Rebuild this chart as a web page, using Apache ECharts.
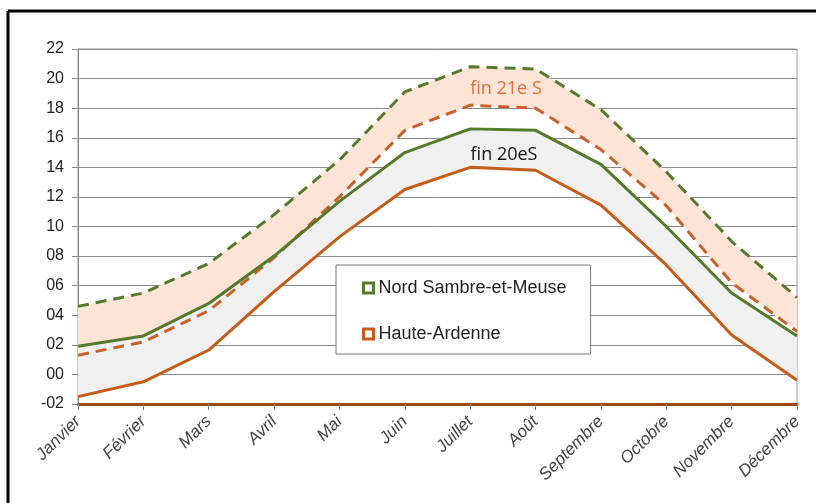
<!DOCTYPE html>
<html>
<head>
<meta charset="utf-8">
<script src="https://cdn.jsdelivr.net/npm/echarts@6/dist/echarts.min.js"></script>
<style>
  html, body { margin: 0; padding: 0; background: #fff; }
  #chart { width: 816px; height: 503px; }
</style>
</head>
<body>
<div id="chart"></div>
<script>
// mois
var months = ['Janvier', 'Février', 'Mars', 'Avril', 'Mai', 'Juin', 'Juillet', 'Août', 'Septembre', 'Octobre', 'Novembre', 'Décembre'];

// fin 20e siecle (traits pleins)
var nord20 = [1.9, 2.6, 4.8, 8.0, 11.7, 15.0, 16.6, 16.5, 14.2, 10.0, 5.5, 2.6];
var haute20 = [-1.5, -0.5, 1.65, 5.6, 9.3, 12.5, 14.0, 13.8, 11.45, 7.4, 2.67, -0.4];

// fin 21e siecle (tirets)
var nord21 = [4.6, 5.5, 7.5, 10.8, 14.5, 19.1, 20.8, 20.65, 17.9, 13.7, 9.0, 5.2];
var haute21 = [1.3, 2.2, 4.3, 7.9, 12.0, 16.5, 18.2, 18.0, 15.2, 11.4, 6.2, 2.9];

var green = '#557a2a', orange = '#c65c1a';

function diff(a, b) {
  return a.map(function (v, i) { return +(v - b[i]).toFixed(2); });
}
function pad(v) {
  var s = String(Math.abs(v));
  if (s.length < 2) s = '0' + s;
  return (v < 0 ? '-' : '') + s;
}

var hidden = { opacity: 0 };
var chart = echarts.init(document.getElementById('chart'));

chart.setOption({
  animation: false,
  backgroundColor: '#fff',
  grid: { left: 78, right: 19, top: 49, bottom: 99, show: true, borderColor: '#9a9a9a', borderWidth: 1 },
  legend: {
    orient: 'vertical',
    left: 336, top: 265,
    padding: [14, 24, 11, 26],
    itemGap: 28,
    itemWidth: 10, itemHeight: 10,
    backgroundColor: '#fff',
    borderColor: '#7a7a7a', borderWidth: 1,
    textStyle: { fontFamily: 'Liberation Sans', fontSize: 18, color: '#222' },
    data: [
      { name: 'Nord Sambre-et-Meuse', icon: 'rect', itemStyle: { color: '#fff', borderColor: green, borderWidth: 3 } },
      { name: 'Haute-Ardenne', icon: 'rect', itemStyle: { color: '#fff', borderColor: orange, borderWidth: 3 } }
    ]
  },
  xAxis: {
    type: 'category',
    data: months,
    boundaryGap: false,
    axisLine: { onZero: false, lineStyle: { color: '#9b4a1a', width: 3 } },
    axisTick: { show: true, length: 6, lineStyle: { color: '#888' } },
    axisLabel: { rotate: 45, margin: 15, fontFamily: 'Liberation Sans', fontStyle: 'italic', fontSize: 17, color: '#444', interval: 0 }
  },
  yAxis: {
    type: 'value',
    min: -2, max: 22, interval: 2,
    axisLine: { show: true, lineStyle: { color: '#888', width: 1 } },
    axisTick: { show: true, length: 6, lineStyle: { color: '#888' } },
    axisLabel: { margin: 14, fontFamily: 'Liberation Sans', fontSize: 16, color: '#222', formatter: pad },
    splitLine: { lineStyle: { color: '#8a8a8a', width: 1 } }
  },
  graphic: [
    { type: 'line', z: 100, shape: { x1: 8, y1: 11, x2: 816, y2: 11 }, style: { stroke: '#000', lineWidth: 3 } },
    { type: 'line', z: 100, shape: { x1: 8, y1: 11, x2: 8, y2: 503 }, style: { stroke: '#000', lineWidth: 3 } },
    { type: 'text', z: 100, x: 506, y: 89, style: { text: 'fin 21e S', fill: '#e0703e', font: '18px "Open Sans"', align: 'center', verticalAlign: 'middle' } },
    { type: 'text', z: 100, x: 504, y: 155, style: { text: 'fin 20eS', fill: '#111', font: '18px "Open Sans"', align: 'center', verticalAlign: 'middle' } }
  ],
  series: [
    { name: 'b21', type: 'line', stack: 'b21', stackStrategy: 'all', data: haute21, symbol: 'none', lineStyle: hidden, silent: true },
    { name: 'band21', type: 'line', stack: 'b21', stackStrategy: 'all', data: diff(nord21, haute21), symbol: 'none', lineStyle: hidden,
      areaStyle: { color: '#fde4d7', opacity: 1 }, silent: true },
    { name: 'b20', type: 'line', stack: 'b20', stackStrategy: 'all', data: haute20, symbol: 'none', lineStyle: hidden, silent: true },
    { name: 'band20', type: 'line', stack: 'b20', stackStrategy: 'all', data: diff(nord20, haute20), symbol: 'none', lineStyle: hidden,
      areaStyle: { color: '#f0f0f0', opacity: 1 }, silent: true },
    { name: 'Nord Sambre-et-Meuse 21e', type: 'line', data: nord21, symbol: 'none',
      lineStyle: { color: green, width: 3, type: [11, 7] } },
    { name: 'Haute-Ardenne 21e', type: 'line', data: haute21, symbol: 'none',
      lineStyle: { color: '#c8622a', width: 3, type: [11, 7] } },
    { name: 'Nord Sambre-et-Meuse', type: 'line', data: nord20, symbol: 'none', color: green,
      lineStyle: { color: green, width: 3 } },
    { name: 'Haute-Ardenne', type: 'line', data: haute20, symbol: 'none', color: orange,
      lineStyle: { color: orange, width: 3 } }
  ]
});
</script>
</body>
</html>
